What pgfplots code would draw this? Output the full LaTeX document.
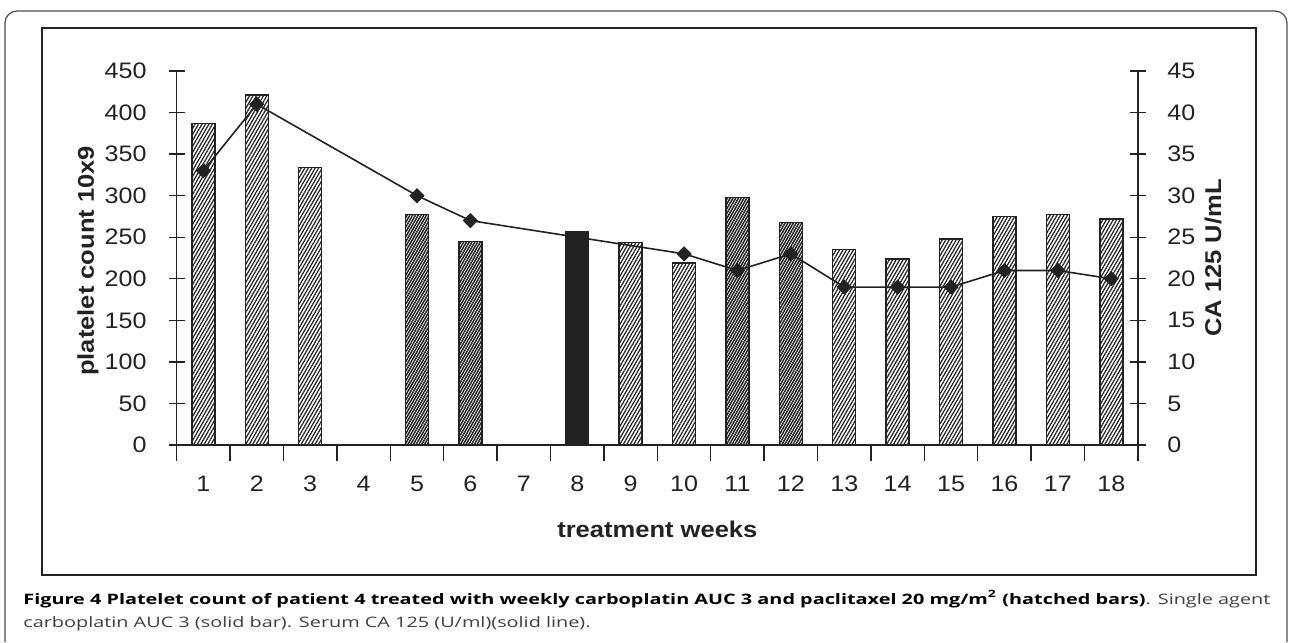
\documentclass[border=0pt]{standalone}
\usepackage{fontspec}
\setmainfont{Liberation Sans}[FakeStretch=1.12]
\newfontfamily\capfont{Open Sans}
\usepackage{graphicx}
\usepackage{pgfplots}
\pgfplotsset{compat=1.18}
\usetikzlibrary{patterns.meta}

\definecolor{ink}{HTML}{222222}

\pgfplotsset{
  common/.style={
    at={(0pt,0pt)}, anchor=south west,
    width=480.65pt, height=187pt, scale only axis,
    xmin=0.5, xmax=18.5,
    major tick length=8pt,
    every tick/.style={ink, line width=0.7pt},
    axis line style={ink, line width=0.7pt, -},
    tick label style={font=\fontsize{11.2}{13}\selectfont, text=ink},
    label style={font=\bfseries\fontsize{11.4}{13}\selectfont, text=ink},
    /pgf/number format/assume math mode=true,
  },
}

\newsavebox\capA
\newsavebox\capB
\newlength\capw

\begin{document}%
\sbox\capA{\capfont\fontsize{7.2}{9}\selectfont\textbf{Figure 4 Platelet count of patient 4 treated with weekly carboplatin AUC 3 and paclitaxel 20 mg/m\textsuperscript{2} (hatched bars)}\textcolor{black!75}{. Single agent}}%
\sbox\capB{\capfont\fontsize{7.2}{9}\selectfont\textcolor{black!75}{carboplatin AUC 3 (solid bar). Serum CA 125 (U/ml)(solid line).}}%
\setlength\capw{\wd\capA}%
\pgfmathsetmacro\capscale{623.5/\capw}%
\begin{tikzpicture}
\useasboundingbox (-88.35pt,-98.5pt) rectangle (556.15pt,222.5pt);
% page frame and chart box
\draw[black!70, line width=0.6pt, rounded corners=6pt]
  (-85.85pt,-98.5pt) -- (-85.85pt,217pt) -- (555.15pt,217pt) -- (555.15pt,-98.5pt);
\draw[ink, line width=1.1pt] (-67.5pt,-65pt) rectangle (539.65pt,208.5pt);

% platelet counts (left axis)
\begin{axis}[common,
  axis x line*=bottom, axis y line*=left,
  xtick align=center, ytick align=center,
  ymin=0, ymax=450, ytick={0,50,...,450},
  xtick={0.5,1.5,...,18.5}, x tick label as interval,
  xticklabels={1,2,3,4,5,6,7,8,9,10,11,12,13,14,15,16,17,18},
  xticklabel style={anchor=base, inner sep=0pt, yshift=-15pt},
  yticklabel style={anchor=east, inner sep=0pt, xshift=-10.85pt},
  xlabel={treatment weeks},
  xlabel style={at={(axis description cs:0.5,0)}, anchor=base, yshift=-46pt},
  ylabel={platelet count 10x9},
  ylabel style={at={(axis description cs:-0.0923,0.4925)}, anchor=center},
  ybar, bar width=11.5pt,
]
\addplot[ybar, bar shift=0pt, draw=ink, line width=0.7pt,
  pattern={Lines[angle=60, distance=1.5pt, line width=0.62pt]}, pattern color=ink]
  coordinates {(1,387) (2,421) (3,334) (9,243.5) (10,219) (13,235.5) (14,224)
               (15,248) (16,275) (17,277) (18,272)};
\addplot[ybar, bar shift=0pt, draw=ink, line width=0.7pt,
  pattern={Lines[angle=60, distance=1.2pt, line width=0.76pt]}, pattern color=ink]
  coordinates {(5,277) (6,245) (11,298) (12,267.5)};
\addplot[ybar, bar shift=0pt, draw=ink, fill=ink, line width=0.7pt]
  coordinates {(8,257)};
\end{axis}

% CA 125 (right axis)
\begin{axis}[common,
  axis x line=none, axis y line*=right,
  ytick align=center,
  ymin=0, ymax=45, ytick={0,5,...,45},
  yticklabel style={anchor=west, inner sep=0pt, xshift=10.5pt},
  ylabel={CA 125 U/mL},
  ylabel style={at={(axis description cs:1.078,0.5)}, anchor=center},
]
\addplot[ink, line width=0.8pt, mark=square*, mark size=2.3pt,
  mark options={rotate=45, fill=ink, solid}]
  coordinates {(1,33) (2,41) (5,30) (6,27) (10,23) (11,21) (12,23) (13,19)
               (14,19) (15,19) (16,21) (17,21) (18,20)};
\end{axis}

% caption
\node[anchor=base west, inner sep=0pt] at (-76.85pt,-79.5pt) {\scalebox{\capscale}[1]{\usebox\capA}};
\node[anchor=base west, inner sep=0pt] at (-76.85pt,-91pt) {\scalebox{\capscale}[1]{\usebox\capB}};
\end{tikzpicture}%
\end{document}
